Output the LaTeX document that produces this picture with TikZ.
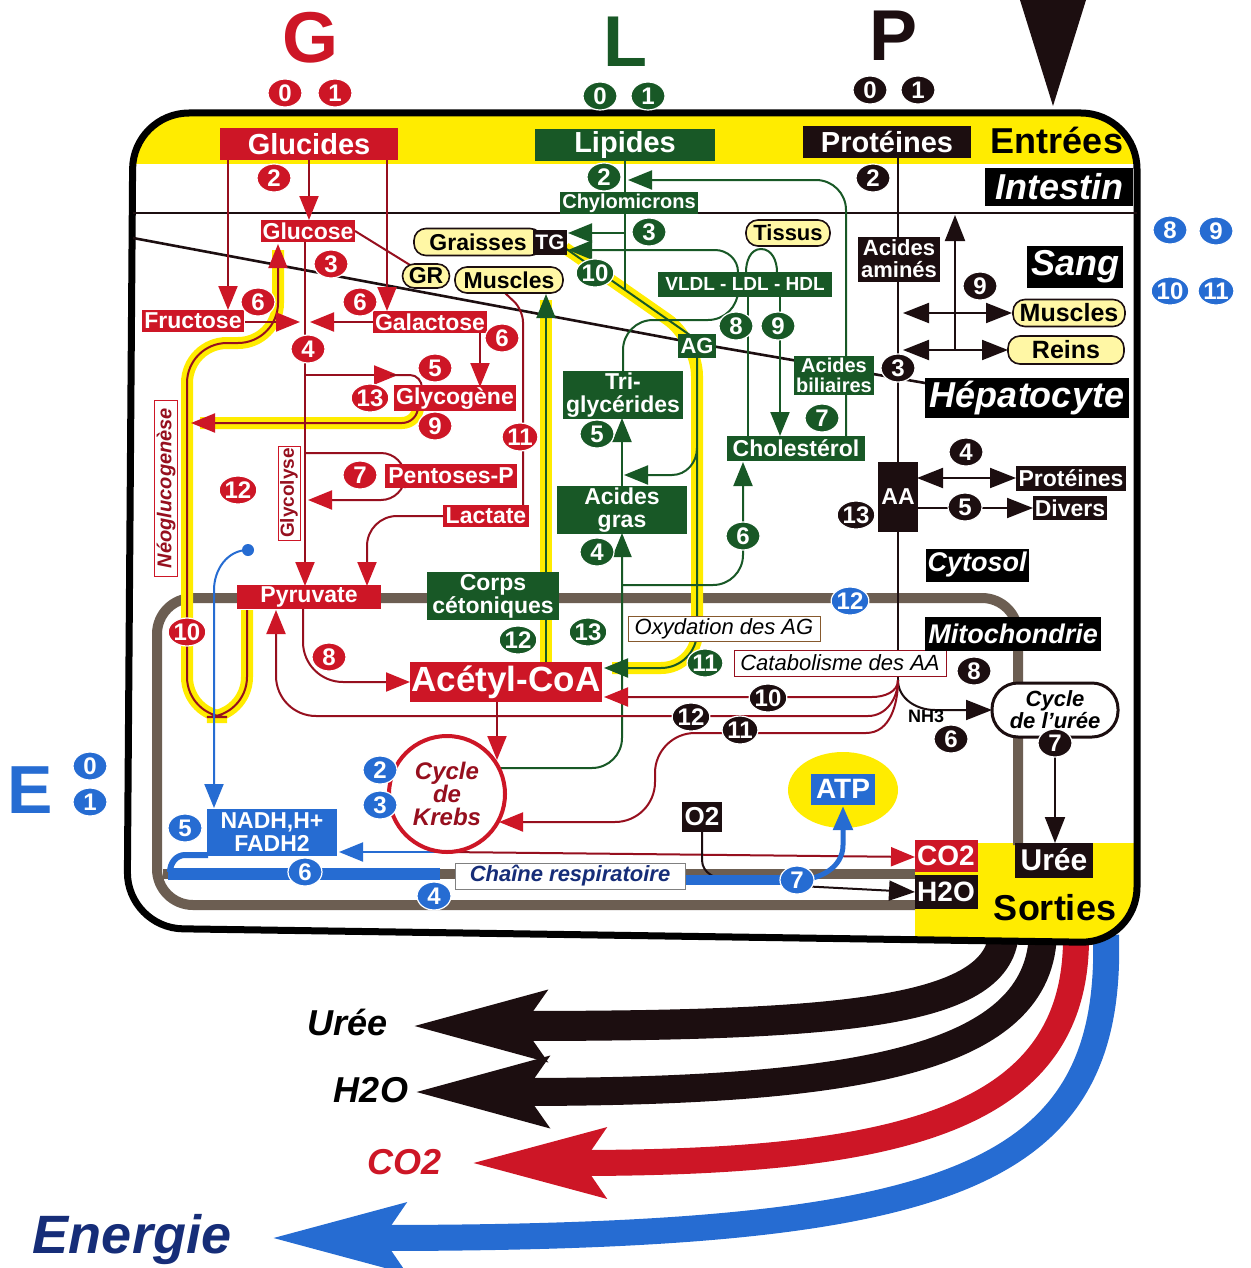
\documentclass[tikz,border=0pt]{standalone}
\usepackage{fontspec}
\setmainfont{Liberation Sans}
\usetikzlibrary{arrows.meta,shapes.geometric,positioning,calc}

\definecolor{gred}{RGB}{205,22,38}
\definecolor{dred}{RGB}{150,15,30}
\definecolor{ggreen}{RGB}{24,88,38}
\definecolor{kblack}{RGB}{28,14,16}
\definecolor{gblue}{RGB}{38,108,210}
\definecolor{dblue}{RGB}{22,45,120}
\definecolor{gyellow}{RGB}{255,236,0}
\definecolor{pyellow}{RGB}{255,247,165}
\definecolor{membr}{RGB}{108,94,82}

\newcommand{\fs}[1]{\fontsize{#1}{#1}\selectfont}

\tikzset{
  lab/.style={text=white, font=\bfseries\fs{11.5}, inner sep=1pt, align=center},
  rbox/.style={lab, fill=gred},
  gbox/.style={lab, fill=ggreen},
  kbox/.style={lab, fill=kblack},
  bbox/.style={lab, fill=gblue},
  pill/.style={draw=kblack, line width=0.8pt, fill=pyellow, rounded corners=6pt,
    font=\bfseries\fs{11.5}, inner sep=1pt},
  zone/.style={fill=black, text=white, font=\bfseries\itshape\fs{18}, inner sep=1pt},
  tag/.style={draw=#1, line width=0.5pt, fill=white, font=\itshape\fs{11}, inner sep=1pt},
  num/.style={ellipse, fill=#1, draw=white, line width=0.6pt, text=white,
    font=\bfseries\fs{12}, inner sep=0pt, minimum width=17pt, minimum height=14pt},
  rl/.style={draw=dred, line width=1pt},
  rarr/.style={rl, -{Triangle[length=12pt,width=9.5pt,color=gred]}},
  gl/.style={draw=ggreen, line width=1pt},
  garr/.style={gl, -{Triangle[length=12pt,width=9.5pt]}},
  kl/.style={draw=kblack, line width=1pt},
  karr/.style={kl, -{Triangle[length=13pt,width=10pt]}},
  kboth/.style={kl, {Triangle[length=13pt,width=10pt]}-{Triangle[length=13pt,width=10pt]}},
  bl/.style={draw=gblue, line width=1pt},
  barr/.style={bl, -{Triangle[length=12pt,width=9.5pt]}},
  halo/.style={draw=gyellow, line width=6pt},
  membrane/.style={draw=membr, line width=5pt},
  flow/.style={line width=14pt, -{Stealth[length=66pt,width=33pt,inset=10pt]}},
}

\begin{document}
\begin{tikzpicture}[x=0.5pt,y=-0.5pt]
\useasboundingbox (0,0) rectangle (1250,1268);

% sorties vers l'exterieur
\draw[flow, kblack, line width=15pt] (1004,930) .. controls (1002,1012) and (850,1026) .. (410,1026);
\draw[flow, kblack] (1043,930) .. controls (1043,1062) and (850,1092) .. (412,1092);
\draw[flow, gred, line width=13pt] (1076,935) .. controls (1078,1120) and (900,1163) .. (470,1163);
\draw[flow, gblue, line width=13pt] (1106,935) .. controls (1113,1180) and (950,1238) .. (270,1238);
\node[font=\bfseries\itshape\fs{18}] (turee) at (348,1022) {Urée};
\node[font=\bfseries\itshape\fs{18}] (th2o) at (371,1090) {H2O};
\node[font=\bfseries\itshape\fs{18}, text=gred] (tco2) at (405,1162) {CO2};
\node[font=\bfseries\itshape\fs{27}, text=dblue] (tenergie) at (132,1240) {Energie};

% cadre
\begin{scope}
  \clip[rounded corners=28] (133,113) -- (1137,113) -- (1137,943) -- (127,928) -- cycle;
  \fill[white] (120,100) rectangle (1150,950);
  \fill[gyellow] (120,100) rectangle (1150,164);
  \fill[gyellow] (915,843) rectangle (1150,950);
\end{scope}
\draw[line width=3.5pt, rounded corners=28] (133,113) -- (1137,113) -- (1137,943) -- (127,928) -- cycle;
\fill[kblack] (1020,0) -- (1086,0) -- (1053,106) -- cycle;

% entrees
\node[text=gred, font=\bfseries\fs{36}] (G) at (310,38) {G};
\node[text=ggreen, font=\bfseries\fs{36}] (L) at (625,42) {L};
\node[text=kblack, font=\bfseries\fs{36}] (P) at (893,36) {P};
\node[text=gblue, font=\bfseries\fs{34}] (E) at (30,790) {E};

% limites
\draw[kl, line width=1.3pt] (133,213) -- (1137,213);
\draw[kl, line width=1.3pt] (133,238) -- (700,344) -- (925,383);
\draw[membrane, rounded corners=18] (915,905) -- (157,905) -- (157,598) -- (1018,598) -- (1018,845);
\draw[membrane] (163,874) -- (915,874);
\node[ellipse, fill=gyellow, minimum width=55pt, minimum height=38pt] (atpglow) at (843,790) {};

% voies surlignees
\draw[halo, rounded corners=20] (247,610) -- (247,717) -- (187,717) -- (187,343) -- (278,343) -- (278,250);
\draw[rarr, rounded corners=20] (247,610) -- (247,717) -- (187,717) -- (187,343) -- (278,343) -- (278,244);
\draw[halo, rounded corners=8] (418,410) -- (418,423) -- (200,423);
\draw[rarr, rounded corners=8] (418,410) -- (418,423) -- (191,423);
\draw[halo] (546,662) -- (546,300);
\draw[garr] (546,662) -- (546,294);
\draw[halo, rounded corners=18] (565,248) -- (697,340) -- (697,668) -- (612,668);
\draw[gl] (565,248) -- (697,340);
\draw[garr, rounded corners=18] (697,358) -- (697,668) -- (604,668);

% glucides
\draw[rarr] (228,160) -- (228,310);
\draw[rarr] (309,160) -- (309,220);
\draw[rarr] (387,160) -- (387,311);
\draw[rarr] (245,322) -- (300,322);
\draw[rarr] (373,322) -- (310,322);
\draw[rarr] (305,242) -- (305,586);
\draw[rarr] (305,375) -- (398,375);
\draw[rl] (390,375) -- (410,375) to[out=0,in=90] (422,388);
\draw[rarr] (480,333) -- (480,387);
\draw[rl, rounded corners=12] (305,453) -- (405,453) -- (405,465);
\draw[rarr, rounded corners=12] (405,488) -- (405,500) -- (308,500);
\draw[rarr, rounded corners=15] (443,516) -- (367,516) -- (367,586);
\draw[rl] (355,231) -- (410,265);
\draw[rl, rounded corners=6] (505,293) -- (523,310) -- (523,505);
\draw[rarr, rounded corners=20] (303,608) -- (303,682) -- (410,682);
\draw[rarr] (497,702) -- (497,760);

% lipides
\draw[gl] (625,160) -- (625,290);
\draw[garr] (625,233) -- (568,233);
\draw[garr] (738,272) to[out=90,in=0] (715,250) -- (568,250);
\draw[gl] (746,272) to[out=90,in=180] (761,249) to[out=0,in=90] (777,272);
\draw[garr, rounded corners=15] (846,436) -- (846,180) -- (628,180);
\draw[gl, rounded corners=15] (623,372) -- (623,320) -- (738,320) -- (738,297);
\draw[gl] (748,297) -- (748,436);
\draw[garr] (780,297) -- (780,436);
\draw[garr] (622,488) -- (622,418);
\draw[garr, rounded corners=15] (499,768) -- (622,768) -- (622,533);
\draw[garr, rounded corners=15] (622,585) -- (743,585) -- (743,462);
\draw[garr] (697,448) to[out=-90,in=0] (672,475) -- (624,475);

% proteines
\draw[kl] (898,158) -- (898,462);
\draw[kl] (898,532) -- (898,680);
\draw[kboth] (903,313) -- (1012,313);
\draw[kboth] (903,350) -- (1008,350);
\draw[karr] (955,350) -- (955,215);
\draw[kboth] (917,478) -- (1016,478);
\draw[karr] (917,508) -- (1033,508);
\draw[karr] (898,680) to[out=-90,in=180] (935,710) -- (992,710);
\draw[rarr] (898,680) to[out=-90,in=0] (872,697) -- (604,697);
\draw[rarr] (898,680) to[out=-90,in=0] (868,716) [rounded corners=20] -- (276,716) -- (276,610);
\draw[rarr] (898,680) to[out=-90,in=0] (866,733) [rounded corners=20] -- (655,733) -- (655,822) -- (499,822);
\draw[karr] (1055,737) -- (1055,843);

% energie
\fill[gblue] (248,550) circle (3pt);
\draw[barr] (248,550) to[out=180,in=90] (214,590) -- (214,808);
\draw[barr] (447,852) -- (339,852);
\draw[rarr] (447,852) -- (915,857);
\draw[gblue, line width=6pt] (168,874) -- (440,874);
\draw[gblue, line width=3pt] (208,855) -- (185,855) to[out=180,in=90] (170,872);
\draw[kl] (702,832) -- (702,860) to[out=-90,in=180] (730,880) -- (797,880);
\draw[gblue, line width=5pt] (686,880) -- (797,880);
\draw[barr, line width=2.5pt] (797,880) to[out=0,in=-90] (843,845) -- (843,806);
\draw[karr] (800,886) -- (915,892);

% noeuds glucides
\node[rbox, font=\bfseries\fs{14.5}, minimum width=89pt, minimum height=16pt] (glucides) at (309,144) {Glucides};
\node[rbox, minimum width=46pt, minimum height=11pt] (glucose) at (308,231) {Glucose};
\node[rbox, minimum width=51pt, minimum height=11pt] (fructose) at (193,321) {Fructose};
\node[rbox, minimum width=57pt, minimum height=11pt] (galactose) at (430,322) {Galactose};
\node[rbox, minimum width=60pt, minimum height=11.5pt] (glycogene) at (455,398) {Glycogène};
\node[rbox, minimum width=66pt, minimum height=12pt] (pentoses) at (451,476) {Pentoses-P};
\node[rbox, minimum width=43pt, minimum height=11pt] (lactate) at (486,516) {Lactate};
\node[rbox, minimum width=72pt, minimum height=11pt] (pyruvate) at (309,597) {Pyruvate};
\node[rbox, font=\bfseries\fs{17.5}, minimum width=96pt, minimum height=20pt] (acetyl) at (506,682) {Acétyl-CoA};
\node[circle, draw=gred, line width=2pt, fill=white, minimum size=58pt, inner sep=0pt,
  font=\bfseries\itshape\fontsize{12}{11.5}\selectfont, text=dred, align=center] (krebs) at (447,794) {Cycle\\de\\Krebs};
\node[tag=gred, text=dred, font=\bfseries\itshape\fs{10}, rotate=90, minimum width=88pt, minimum height=11.5pt] (neoglu) at (166,488) {Néoglucogenèse};
\node[tag=gred, text=dred, font=\bfseries\fs{9.5}, rotate=90, minimum width=47pt, minimum height=11pt] (glycolyse) at (289,493) {Glycolyse};

% noeuds lipides
\node[gbox, font=\bfseries\fs{14.5}, minimum width=90pt, minimum height=15pt] (lipides) at (625,145) {Lipides};
\node[gbox, font=\bfseries\fs{10}, minimum width=68pt, minimum height=11pt] (chylo) at (629,203) {Chylomicrons};
\node[pill, minimum width=64pt, minimum height=13.5pt] (graisses) at (478,242) {Graisses\hspace{10pt}};
\node[kbox, font=\bfseries\fs{10.5}, minimum width=17pt, minimum height=12.5pt] (tg) at (550,242) {TG};
\node[pill, minimum width=23.5pt, minimum height=12pt] (gr) at (426,276) {GR};
\node[pill, minimum width=54pt, minimum height=13pt] (musclesG) at (509,280) {Muscles};
\node[pill, font=\bfseries\fs{11}, minimum width=42pt, minimum height=13pt] (tissus) at (788,233) {Tissus};
\node[gbox, font=\bfseries\fs{9.5}, minimum width=87pt, minimum height=12.5pt] (vldl) at (745,284) {VLDL - LDL - HDL};
\node[gbox, font=\bfseries\fs{11}, minimum width=19pt, minimum height=12pt] (ag) at (697,346) {AG};
\node[gbox, font=\bfseries\fs{10}, minimum width=39pt, minimum height=19.5pt] (biliaires) at (834,375) {Acides\\biliaires};
\node[gbox, minimum width=60pt, minimum height=23pt] (trig) at (623,395) {Tri-\\glycérides};
\node[gbox, minimum width=69pt, minimum height=12.5pt] (cholesterol) at (796,448) {Cholestérol};
\node[gbox, minimum width=65pt, minimum height=22pt] (acgras) at (622,510) {Acides\\gras};
\node[gbox, minimum width=66pt, minimum height=21.5pt] (cetones) at (493,596) {Corps\\cétoniques};
\node[tag=brown!70!black, minimum width=96pt, minimum height=12pt] (oxyd) at (724,629) {Oxydation des AG};

% noeuds proteines
\node[kbox, font=\bfseries\fs{14.5}, minimum width=84pt, minimum height=16pt] (proteines) at (887,142) {Protéines};
\node[kbox, font=\bfseries\fs{11}, minimum width=41pt, minimum height=22.5pt] (aamines) at (899,259) {Acides\\aminés};
\node[pill, font=\bfseries\fs{12.5}, minimum width=56pt, minimum height=13.5pt] (musclesP) at (1069,313) {Muscles};
\node[pill, font=\bfseries\fs{12.5}, minimum width=58pt, minimum height=14pt] (reins) at (1066,350) {Reins};
\node[kbox, minimum width=20pt, minimum height=35pt] (aa) at (898,497) {AA};
\node[kbox, minimum width=55pt, minimum height=12.5pt] (protsmall) at (1071,478) {Protéines};
\node[kbox, minimum width=37pt, minimum height=12pt] (divers) at (1070,508) {Divers};
\node[tag=dred, minimum width=106pt, minimum height=13pt] (catab) at (840,663) {Catabolisme des AA};
\node[draw=kblack, line width=1.5pt, fill=white, rounded corners=13pt, minimum width=63pt, minimum height=27pt,
  font=\bfseries\itshape\fs{11}, align=center] (urea) at (1055,710) {Cycle\\de l'urée};
\node[font=\bfseries\fs{9}, inner sep=0pt] (nh3) at (926,716) {NH3};

% noeuds energie et sorties
\node[bbox, minimum width=65pt, minimum height=23.5pt] (nadh) at (272,832) {NADH,H+\\FADH2};
\node[bbox, font=\bfseries\fs{14}, minimum width=32pt, minimum height=15.5pt] (atp) at (843,789) {ATP};
\node[tag=gray, text=dblue, font=\bfseries\itshape\fs{11}, minimum width=115pt, minimum height=13pt] (chaine) at (570,876) {Chaîne respiratoire};
\node[kbox, font=\bfseries\fs{13}, minimum width=20pt, minimum height=15pt] (o2) at (702,817) {O2};
\node[rbox, font=\bfseries\fs{14}, minimum width=31.5pt, minimum height=16pt] (co2) at (946,856) {CO2};
\node[kbox, font=\bfseries\fs{14}, minimum width=31.5pt, minimum height=17pt] (h2o) at (946,892) {H2O};
\node[kbox, font=\bfseries\fs{15}, minimum width=39pt, minimum height=17.5pt] (uree) at (1054,860) {Urée};

% zones
\node[font=\bfseries\fs{18}] (entrees) at (1057,140) {Entrées};
\node[font=\bfseries\fs{18}] (sorties) at (1055,908) {Sorties};
\node[zone, minimum width=74pt, minimum height=19pt] (intestin) at (1059,187) {Intestin};
\node[zone, minimum width=48pt, minimum height=21pt] (sang) at (1075,267) {Sang};
\node[zone, minimum width=102pt, minimum height=20pt] (hepato) at (1027,398) {Hépatocyte};
\node[zone, font=\bfseries\itshape\fs{13.5}, minimum width=51pt, minimum height=16.5pt] (cytosol) at (977,565) {Cytosol};
\node[zone, font=\bfseries\itshape\fs{13.5}, minimum width=88pt, minimum height=17pt] (mito) at (1013,634) {Mitochondrie};

% etapes numerotees
\foreach \t/\x/\y [count=\k] in {2/274/178, 3/331/264, 6/258/302, 6/360/302, 4/308/349, 6/502/338,
  5/435/368, 13/370/398, 9/435/426, 11/520/437, 7/360/475, 12/238/490, 10/187/632, 8/329/657, 0/285/93, 1/335/93}
  {\node[num=gred] (nr\k) at (\x,\y) {\t};}
\foreach \t/\x/\y [count=\k] in {2/604/177, 3/649/232, 10/595/273, 8/736/326, 9/778/326, 7/822/418,
  5/597/434, 4/597/552, 6/743/536, 12/518/640, 13/588/632, 11/705/663, 0/600/96, 1/648/96}
  {\node[num=ggreen] (ng\k) at (\x,\y) {\t};}
\foreach \t/\x/\y [count=\k] in {2/873/178, 9/980/286, 3/898/368, 4/966/452, 13/856/515, 5/965/507,
  8/974/671, 10/768/698, 12/691/717, 11/740/730, 6/951/739, 7/1055/743, 0/870/90, 1/918/90}
  {\node[num=kblack] (nk\k) at (\x,\y) {\t};}
\foreach \t/\x/\y [count=\k] in {5/185/828, 6/305/872, 4/434/896, 2/380/770, 3/380/805, 7/797/880,
  12/850/601, 0/90/766, 1/90/802, 8/1170/230, 9/1216/231, 10/1170/291, 11/1216/291}
  {\node[num=gblue] (nb\k) at (\x,\y) {\t};}
\end{tikzpicture}
\end{document}
